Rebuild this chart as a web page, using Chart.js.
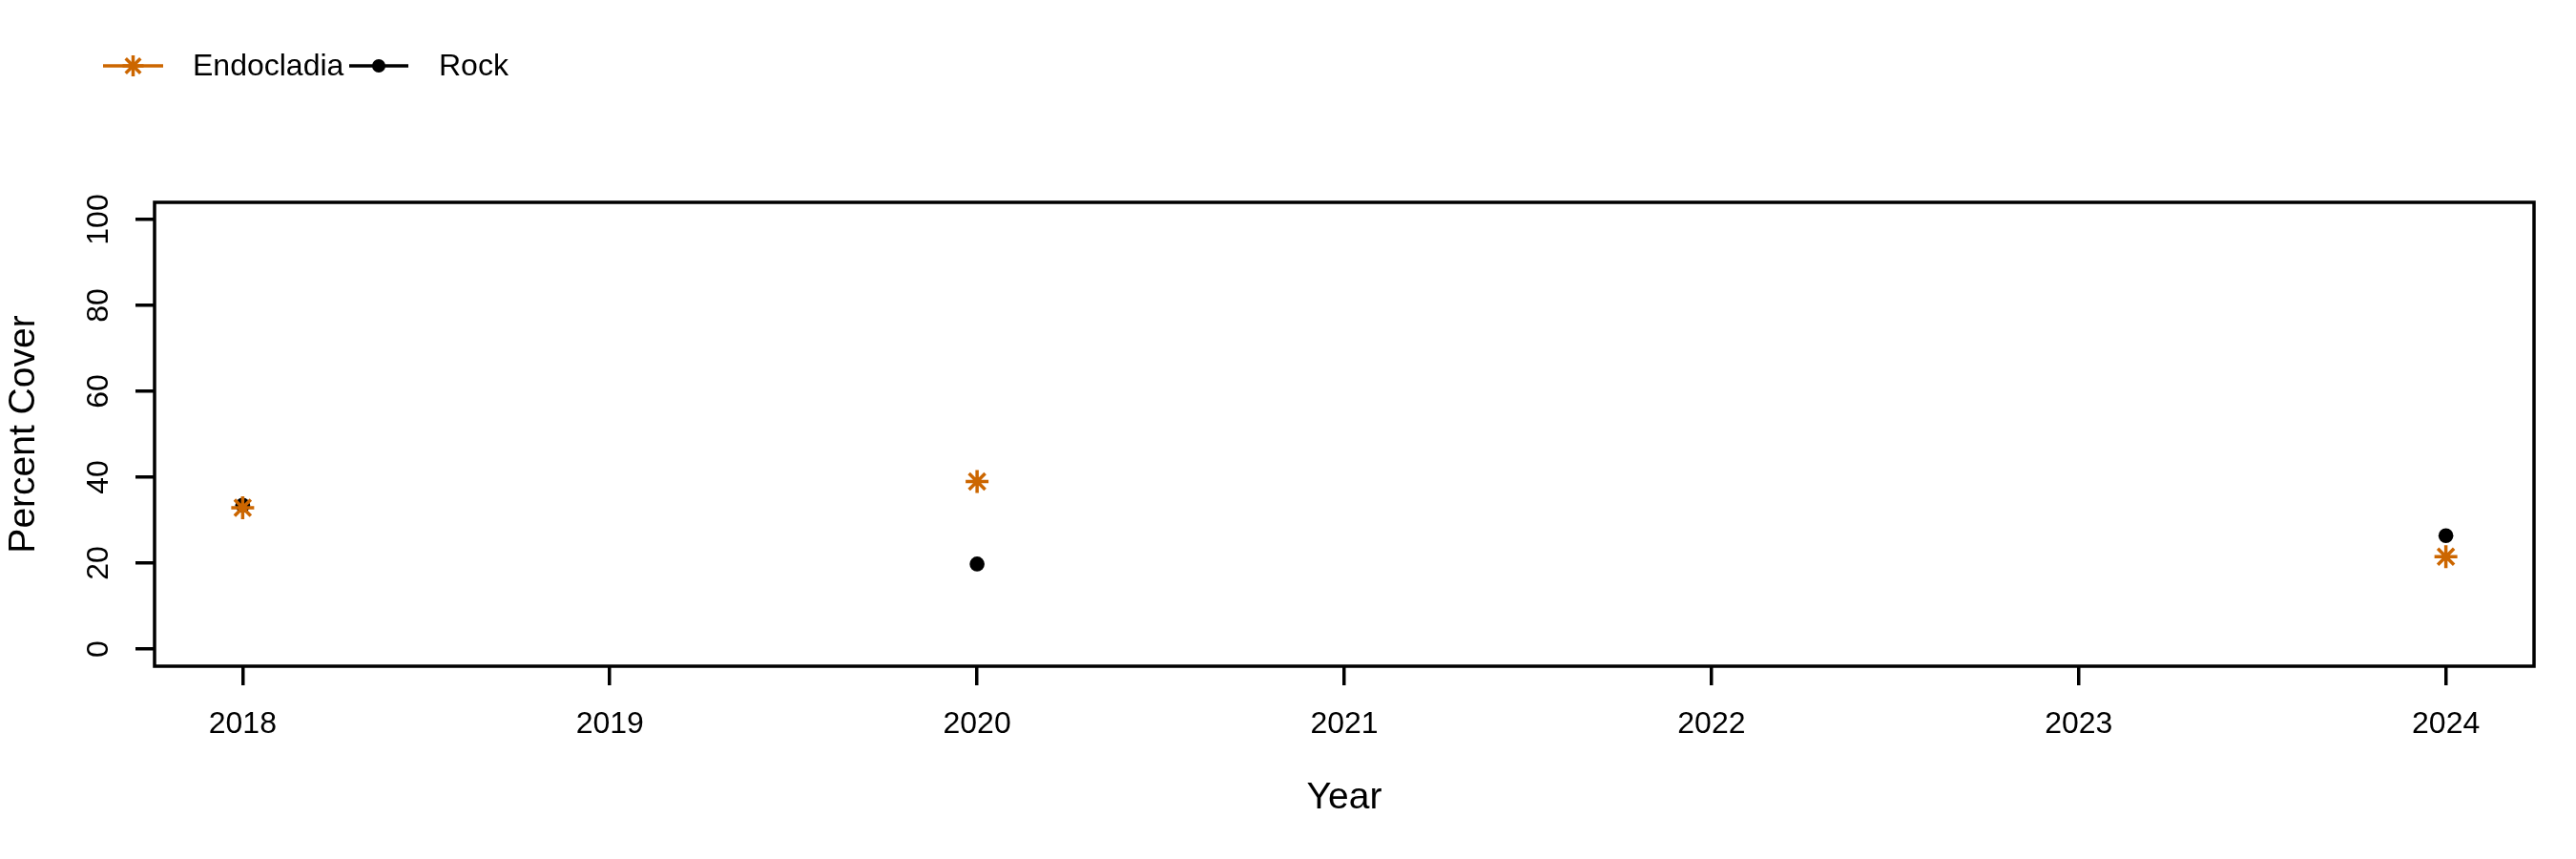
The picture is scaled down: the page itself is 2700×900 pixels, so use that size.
<!DOCTYPE html>
<html lang="en">
<head>
  <meta charset="UTF-8">
  <title>Percent Cover</title>
  <script src="https://cdn.jsdelivr.net/npm/chart.js"></script>
  <style>
    html, body { margin: 0; padding: 0; background: #fff; }
    #wrap { width: 2700px; height: 900px; }
  </style>
</head>
<body>
<div id="wrap">
  <canvas id="coverChart" width="2700" height="900"></canvas>
</div>

<script>
  // survey years and percent cover per year (null = not sampled)
  const years = [2018, 2019, 2020, 2021, 2022, 2023, 2024];
  const endocladia = [32.9, null, 39.0, null, null, null, 21.5];
  const rock = [33.5, null, 19.8, null, null, null, 26.4];
  const yTicks = [0, 20, 40, 60, 80, 100];

  const orange = "#CC6600";
  const font = "'Liberation Sans', Arial, sans-serif";

  function toPoints(values) {
    return years.map((yr, i) => ({ x: yr, y: values[i] }));
  }

  // R-style frame around the plot region
  const boxPlugin = {
    id: "box",
    afterDraw(chart) {
      const { ctx, chartArea: a } = chart;
      ctx.save();
      ctx.strokeStyle = "#000";
      ctx.lineWidth = 3.5;
      ctx.strokeRect(a.left, a.top, a.right - a.left, a.bottom - a.top);
      ctx.restore();
    }
  };

  // vertical y tick labels, read bottom to top like R
  const yLabelPlugin = {
    id: "yLabels",
    afterDraw(chart) {
      const { ctx } = chart;
      const y = chart.scales.y;
      ctx.save();
      ctx.fillStyle = "#000";
      ctx.font = "32px " + font;
      ctx.textAlign = "center";
      ctx.textBaseline = "middle";
      y.ticks.forEach(t => {
        ctx.save();
        ctx.translate(104, y.getPixelForValue(t.value));
        ctx.rotate(-Math.PI / 2);
        ctx.fillText(String(t.value), 0, 0);
        ctx.restore();
      });
      ctx.restore();
    }
  };

  // legend with line + marker per series
  const legendPlugin = {
    id: "rLegend",
    afterDraw(chart) {
      const { ctx } = chart;
      const items = [
        { x0: 108, x1: 171, tx: 202 },
        { x0: 366, x1: 428, tx: 460 }
      ];
      const ly = 69;
      ctx.save();
      chart.data.datasets.forEach((ds, i) => {
        const it = items[i];
        const cx = (it.x0 + it.x1) / 2;
        ctx.strokeStyle = ds.borderColor;
        ctx.fillStyle = ds.borderColor;
        ctx.lineWidth = 3.5;
        ctx.beginPath();
        ctx.moveTo(it.x0, ly);
        ctx.lineTo(it.x1, ly);
        ctx.stroke();
        if (ds.pointStyle === "star") {
          const r = 11;
          for (let k = 0; k < 4; k++) {
            const ang = k * Math.PI / 4;
            ctx.beginPath();
            ctx.moveTo(cx - Math.cos(ang) * r, ly - Math.sin(ang) * r);
            ctx.lineTo(cx + Math.cos(ang) * r, ly + Math.sin(ang) * r);
            ctx.stroke();
          }
        } else {
          ctx.beginPath();
          ctx.arc(cx, ly, 7, 0, Math.PI * 2);
          ctx.fill();
        }
        ctx.fillStyle = "#000";
        ctx.font = "32px " + font;
        ctx.textAlign = "left";
        ctx.textBaseline = "middle";
        ctx.fillText(ds.label, it.tx, ly + 1);
      });
      ctx.restore();
    }
  };

  const ctx = document.getElementById("coverChart").getContext("2d");

  new Chart(ctx, {
    type: "line",
    data: {
      datasets: [
        {
          label: "Endocladia",
          data: toPoints(endocladia),
          borderColor: orange,
          backgroundColor: orange,
          borderWidth: 3.5,
          pointStyle: "star",
          pointRadius: 12,
          pointBorderWidth: 3.5,
          pointBorderColor: orange,
          spanGaps: false
        },
        {
          label: "Rock",
          data: toPoints(rock),
          borderColor: "#000",
          backgroundColor: "#000",
          borderWidth: 3.5,
          pointStyle: "circle",
          pointRadius: 7.8,
          pointBorderWidth: 0,
          pointBackgroundColor: "#000",
          spanGaps: false
        }
      ]
    },
    options: {
      responsive: false,
      animation: false,
      devicePixelRatio: 1,
      layout: { padding: { top: 212, right: 44, left: 0, bottom: 0 } },
      plugins: {
        legend: { display: false },
        tooltip: { enabled: false }
      },
      scales: {
        x: {
          type: "linear",
          min: 2017.76,
          max: 2024.24,
          afterBuildTicks(scale) {
            scale.ticks = years.map(v => ({ value: v }));
          },
          afterFit(scale) { scale.height = 202; },
          grid: {
            drawOnChartArea: false,
            drawTicks: true,
            tickLength: 20,
            color: "#000",
            lineWidth: 3.5
          },
          border: { display: false },
          ticks: {
            color: "#000",
            font: { family: font, size: 32, lineHeight: 1 },
            padding: 25,
            maxRotation: 0,
            autoSkip: false,
            callback: v => String(v)
          },
          title: {
            display: true,
            text: "Year",
            color: "#000",
            font: { family: font, size: 39, lineHeight: 1 },
            padding: { top: 0, bottom: 44 }
          }
        },
        y: {
          type: "linear",
          min: -4,
          max: 104,
          afterBuildTicks(scale) {
            scale.ticks = yTicks.map(v => ({ value: v }));
          },
          afterFit(scale) { scale.width = 162; },
          grid: {
            drawOnChartArea: false,
            drawTicks: true,
            tickLength: 20,
            color: "#000",
            lineWidth: 3.5
          },
          border: { display: false },
          ticks: { display: false },
          title: {
            display: true,
            text: "Percent Cover",
            color: "#000",
            font: { family: font, size: 39, lineHeight: 1 },
            padding: { top: 6, bottom: 0 }
          }
        }
      }
    },
    plugins: [boxPlugin, yLabelPlugin, legendPlugin]
  });
</script>
</body>
</html>
